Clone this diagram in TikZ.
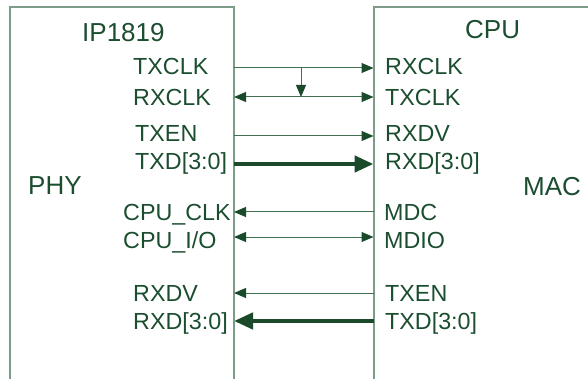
\documentclass[tikz,border=0pt]{standalone}
\usepackage{fontspec}
\setmainfont{Liberation Sans}
\usetikzlibrary{arrows.meta}
\definecolor{txt}{HTML}{1B4D2F}
\definecolor{tip}{HTML}{1A4A2A}
\definecolor{wire}{HTML}{3F7050}
\definecolor{edge}{HTML}{7C9C88}
\begin{document}
\begin{tikzpicture}[x=1pt,y=-1pt,
  boxline/.style={draw=edge,line width=1.3pt},
  sig/.style={draw=wire,line width=1pt},
  thinhead/.style={-{Triangle[length=12pt,width=10pt,fill=tip,color=tip]}},
  thinboth/.style={{Triangle[length=12pt,width=10pt,fill=tip,color=tip]}-{Triangle[length=12pt,width=10pt,fill=tip,color=tip]}},
  bus/.style={draw=tip,line width=4.5pt},
  bushead/.style={-{Triangle[length=19pt,width=16pt,fill=tip,color=tip]}},
  lbl/.style={anchor=base west,inner sep=0pt,text=txt,font=\fontsize{23.3}{23}\selectfont},
  big/.style={anchor=base west,inner sep=0pt,text=txt,font=\fontsize{26}{26}\selectfont}]
\useasboundingbox (0,0) rectangle (588,379);
% boxes
\coordinate (lbl0) at (10,379);
\coordinate (ltl) at (10,7);
\coordinate (ltr) at (234,7);
\coordinate (lbr) at (234,379);
\coordinate (rbl) at (374,379);
\coordinate (rtl) at (374,7);
\coordinate (rtr) at (588,7);
\draw[boxline] (lbl0) -- (ltl) -- (ltr) -- (lbr);
\draw[boxline] (rbl) -- (rtl) -- (rtr);
% titles
\node[big] (ip) at (82,42) {IP1819};
\node[big] (cpu) at (465,39) {CPU};
\node[big] (phy) at (28,195) {PHY};
\node[big] (mac) at (523,196) {MAC};
% left labels
\node[lbl] (l1t) at (133,75) {TXCLK};
\node[lbl] (l2t) at (133,106) {RXCLK};
\node[lbl] (l3t) at (135,142) {TXEN};
\node[lbl] (l4t) at (135,170) {TXD[3:0]};
\node[lbl] (l5t) at (123,220) {CPU\_CLK};
\node[lbl] (l6t) at (123,248) {CPU\_I/O};
\node[lbl] (l7t) at (133,301) {RXDV};
\node[lbl] (l8t) at (133,329) {RXD[3:0]};
% right labels
\node[lbl] (r1t) at (385,75) {RXCLK};
\node[lbl] (r2t) at (385,106) {TXCLK};
\node[lbl] (r3t) at (385,142) {RXDV};
\node[lbl] (r4t) at (385,170) {RXD[3:0]};
\node[lbl] (r5t) at (384,220) {MDC};
\node[lbl] (r6t) at (384,248) {MDIO};
\node[lbl] (r7t) at (385,301) {TXEN};
\node[lbl] (r8t) at (385,329) {TXD[3:0]};
% wire end points
\foreach \i/\y in {1/68,2/97,3/136,4/164,5/212,6/237,7/293,8/321}{
  \coordinate (a\i) at (234,\y);
  \coordinate (b\i) at (373.5,\y);
}
\coordinate (v1) at (301,68);
\coordinate (v2) at (301,97);
% wires
\draw[sig,thinhead] (a1) -- (b1);
\draw[sig,thinboth] (a2) -- (b2);
\draw[sig,thinhead] (v1) -- (v2);
\draw[sig,thinhead] (a3) -- (b3);
\draw[bus,bushead] (a4) -- (b4);
\draw[sig,thinhead] (b5) -- (a5);
\draw[sig,thinboth] (a6) -- (b6);
\draw[sig,thinhead] (b7) -- (a7);
\draw[bus,bushead] (b8) -- (a8);
\end{tikzpicture}
\end{document}
